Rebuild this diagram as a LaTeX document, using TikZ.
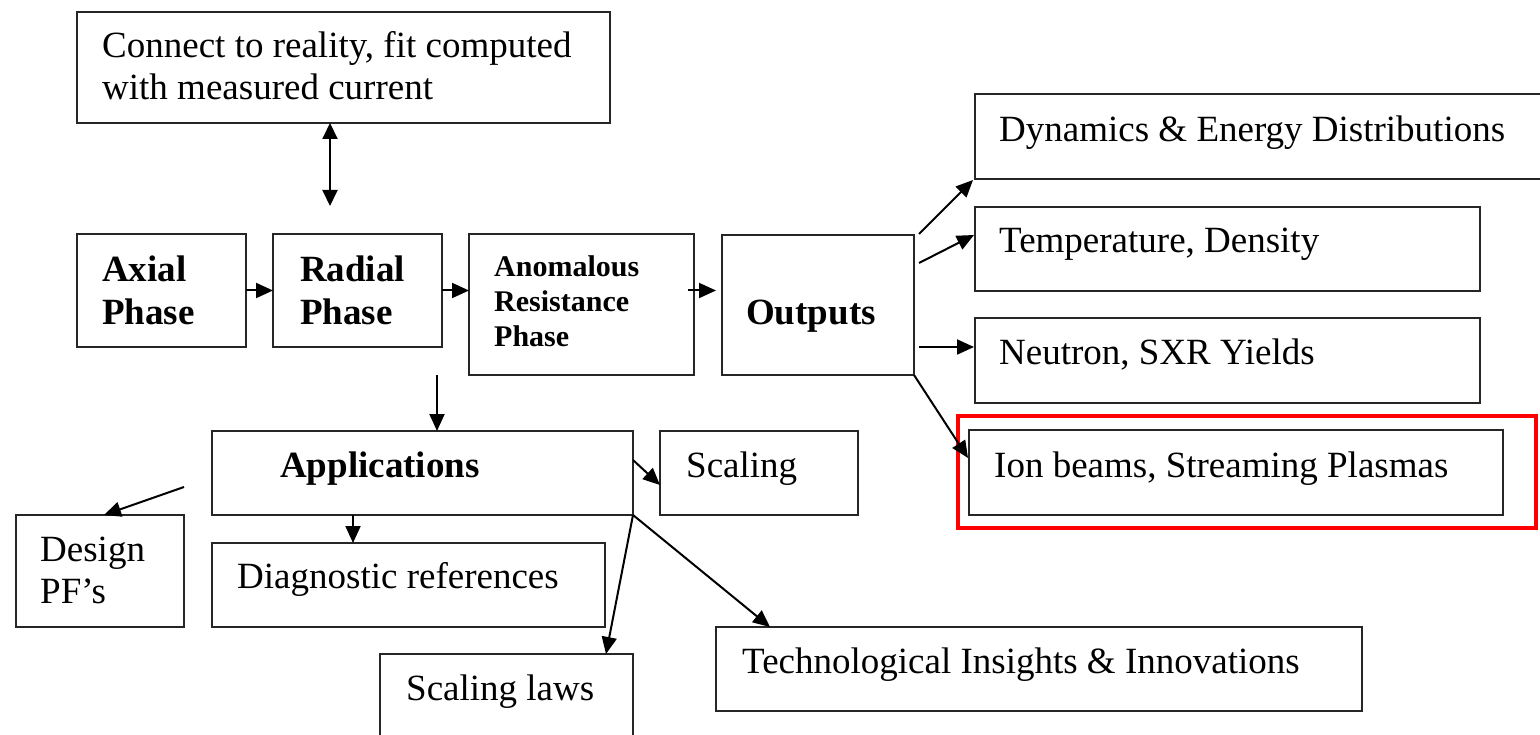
\documentclass[tikz,border=0pt]{standalone}
\usepackage{fontspec}
\setmainfont{Liberation Serif}
\usetikzlibrary{arrows.meta,calc}
\begin{document}
\begin{tikzpicture}[x=1pt,y=-1pt,
  box/.style={draw=black!85,line width=2pt,rectangle,inner sep=0pt,outer sep=0pt,anchor=north west},
  redbox/.style={draw=red,line width=4.5pt,rectangle,inner sep=0pt,outer sep=0pt,anchor=north west},
  txt/.style={anchor=base west,inner sep=0pt,font=\fontsize{37}{44}\selectfont},
  btxt/.style={anchor=base west,inner sep=0pt,font=\fontsize{37}{44}\selectfont\bfseries},
  stxt/.style={anchor=base west,inner sep=0pt,font=\fontsize{30}{35}\selectfont\bfseries},
  arr/.style={line width=2pt,-{Triangle[length=17pt,width=15pt]}},
  darr/.style={line width=2pt,{Triangle[length=16pt,width=15pt]}-{Triangle[length=16pt,width=15pt]}}]
\clip (0,0) rectangle (1540,735);
\fill[white] (0,0) rectangle (1540,735);
% boxes
\node[box,minimum width=533pt,minimum height=111pt] (connect) at (77,12) {};
\node[box,minimum width=169pt,minimum height=113pt] (axial) at (77,234) {};
\node[box,minimum width=169pt,minimum height=113pt] (radial) at (273,234) {};
\node[box,minimum width=225pt,minimum height=141pt] (anom) at (469,234) {};
\node[box,minimum width=192pt,minimum height=140pt] (outputs) at (722,235) {};
\node[box,minimum width=566pt,minimum height=85pt] (dyn) at (975,94) {};
\node[box,minimum width=505pt,minimum height=84pt] (temp) at (975,207) {};
\node[box,minimum width=505pt,minimum height=85pt] (neut) at (975,318) {};
\node[box,minimum width=534pt,minimum height=85pt] (ion) at (969,430) {};
\node[redbox,minimum width=578pt,minimum height=112pt] (red) at (958,416) {};
\node[box,minimum width=421pt,minimum height=84pt] (apps) at (212,431) {};
\node[box,minimum width=198pt,minimum height=84pt] (scal) at (660,431) {};
\node[box,minimum width=168pt,minimum height=112pt] (design) at (16,515) {};
\node[box,minimum width=393pt,minimum height=84pt] (diag) at (212,543) {};
\node[box,minimum width=253pt,minimum height=100pt] (slaws) at (380,654) {};
\node[box,minimum width=646pt,minimum height=84pt] (tech) at (716,627) {};
% texts
\node[txt] (t1a) at (102,58) {Connect to reality, fit computed};
\node[txt] (t1b) at (102,100) {with measured current};
\node[btxt] (t2a) at (102,282) {Axial};
\node[btxt] (t2b) at (102,325) {Phase};
\node[btxt] (t3a) at (300,282) {Radial};
\node[btxt] (t3b) at (300,325) {Phase};
\node[stxt] (t4a) at (494,277) {Anomalous};
\node[stxt] (t4b) at (494,312) {Resistance};
\node[stxt] (t4c) at (494,347) {Phase};
\node[btxt] (t5) at (746,325) {Outputs};
\node[txt] (t6) at (999,142) {Dynamics \& Energy Distributions};
\node[txt] (t7) at (999,253) {Temperature, Density};
\node[txt] (t8) at (999,365) {Neutron, SXR Yields};
\node[txt] (t9) at (994,477) {Ion beams, Streaming Plasmas};
\node[btxt] (t10) at (280,477) {Applications};
\node[txt] (t11) at (686,477) {Scaling};
\node[txt] (t12a) at (40,561) {Design};
\node[txt] (t12b) at (40,603) {PF’s};
\node[txt] (t13) at (237,588) {Diagnostic references};
\node[txt] (t14) at (406,700) {Scaling laws};
\node[txt] (t15) at (742,673) {Technological Insights \& Innovations};
% connectors
\coordinate (dblend) at (330,206);
\draw[darr] (dblend |- connect.south) -- (dblend);
\draw[arr] (axial.east) -- (radial.west);
\draw[arr] (radial.east) -- (radial.east -| anom.west);
\draw[arr,shorten <=-6pt,shorten >=6pt] (radial.east -| anom.east) -- (radial.east -| outputs.west);
\draw[arr] ($(outputs.north east)+(5,-1)$) -- ($(dyn.south west)+(-2,1)$);
\draw[arr] ($(outputs.north east)+(5,28)$) -- ($(temp.north west)+(-1,28)$);
\draw[arr] ($(outputs.south east)+(5,-28)$) -- ($(neut.south west)+(-1,-56)$);
\draw[arr] (outputs.south east) -- ($(ion.north west)+(-1,28)$);
\coordinate (rs) at ($(radial.south east)+(-5,28)$);
\draw[arr] (rs) -- (rs |- apps.north);
\coordinate (ds) at ($(design.north east)+(0,-28)$);
\draw[arr] (ds) -- ($(design.north west)+(88,0)$);
\draw[arr] ($(apps.south west)+(141,0)$) -- ($(diag.north west)+(141,0)$);
\draw[arr] ($(apps.north east)+(0,29)$) -- ($(scal.north west)+(0,54)$);
\draw[arr] (apps.south east) -- ($(slaws.north west)+(226,0)$);
\draw[arr] (apps.south east) -- ($(tech.north west)+(54,0)$);
\end{tikzpicture}
\end{document}
